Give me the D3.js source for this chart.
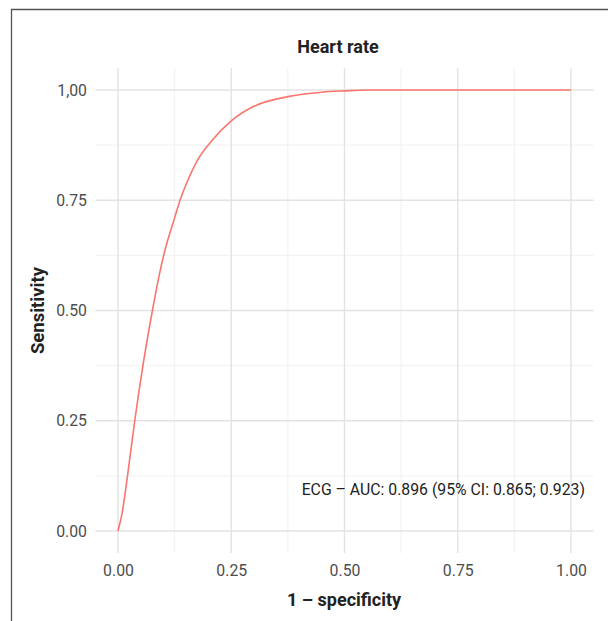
<!DOCTYPE html>
<html>
<head>
<meta charset="utf-8">
<script src="https://cdn.jsdelivr.net/npm/d3@7"></script>
<style>
  body { margin: 0; background: #fff; }
  text { font-family: "Roboto", "Liberation Sans", sans-serif; }
</style>
</head>
<body>
<div id="chart"></div>
<script>
// ROC curve points (1 - specificity, sensitivity)
var fpr = [0, 0.009, 0.021, 0.037, 0.055, 0.076, 0.09, 0.1015, 0.125, 0.137, 0.15, 0.175, 0.207, 0.25, 0.3, 0.375, 0.45, 0.5, 0.55, 1.0];
var sens = [0, 0.04, 0.125, 0.25, 0.375, 0.5, 0.575, 0.628, 0.71, 0.75, 0.785, 0.84, 0.885, 0.93, 0.963, 0.985, 0.995, 0.998, 1.0, 1.0];

var xTicks = [0, 0.25, 0.5, 0.75, 1];
var yTicks = [0, 0.25, 0.5, 0.75, 1];
var yTickLabels = ["0.00", "0.25", "0.50", "0.75", "1,00"];
var minorTicks = [0.125, 0.375, 0.625, 0.875];

var titleText = "Heart rate";
var xTitle = "1 \u2013 specificity";
var yTitle = "Sensitivity";
var aucText = "ECG \u2013 AUC: 0.896 (95% CI: 0.865; 0.923)";

var svgWidth = 608;
var svgHeight = 621;

var svg = d3.select("#chart")
  .append("svg")
  .attr("width", svgWidth)
  .attr("height", svgHeight);

// frame line on left and top
svg.append("path")
  .attr("d", "M11.5,621 L11.5,9.5 L608,9.5")
  .attr("fill", "none")
  .attr("stroke", "#555")
  .attr("stroke-width", 1.3);

// scales, with a 5% expansion like ggplot
var xScale = d3.scaleLinear().domain([0, 1]).range([118, 571]);
var yScale = d3.scaleLinear().domain([0, 1]).range([531, 90]);
var panelX = [xScale(-0.05), xScale(1.05)];
var panelY = [yScale(1.05), yScale(-0.05)];

var grid = svg.append("g");

// minor grid
minorTicks.forEach(function(t) {
  grid.append("line")
    .attr("x1", xScale(t)).attr("x2", xScale(t))
    .attr("y1", panelY[0]).attr("y2", panelY[1])
    .attr("stroke", "#ededed").attr("stroke-width", 0.8);
  grid.append("line")
    .attr("x1", panelX[0]).attr("x2", panelX[1])
    .attr("y1", yScale(t)).attr("y2", yScale(t))
    .attr("stroke", "#ededed").attr("stroke-width", 0.8);
});

// major grid
xTicks.forEach(function(t) {
  grid.append("line")
    .attr("x1", xScale(t)).attr("x2", xScale(t))
    .attr("y1", panelY[0]).attr("y2", panelY[1])
    .attr("stroke", "#e3e3e3").attr("stroke-width", 1.4);
});
yTicks.forEach(function(t) {
  grid.append("line")
    .attr("x1", panelX[0]).attr("x2", panelX[1])
    .attr("y1", yScale(t)).attr("y2", yScale(t))
    .attr("stroke", "#e3e3e3").attr("stroke-width", 1.4);
});

// axes (labels only, no lines)
var bottomAxis = d3.axisBottom(xScale)
  .tickValues(xTicks)
  .tickFormat(d3.format(".2f"))
  .tickSize(0)
  .tickPadding(0);
var xAxis = svg.append("g")
  .attr("transform", "translate(0,565)")
  .call(bottomAxis);
xAxis.select(".domain").remove();

var leftAxis = d3.axisLeft(yScale)
  .tickValues(yTicks)
  .tickFormat(function(d, i) { return yTickLabels[i]; })
  .tickSize(0)
  .tickPadding(0);
var yAxis = svg.append("g")
  .attr("transform", "translate(87,0)")
  .call(leftAxis);
yAxis.select(".domain").remove();

svg.selectAll(".tick text")
  .attr("font-family", null)
  .attr("font-size", null)
  .style("font-size", "15.8px")
  .attr("fill", "#4d4d4d");

// ROC line
var rocData = fpr.map(function(d, i) { return { x: d, y: sens[i] }; });
var line = d3.line()
  .x(function(d) { return xScale(d.x); })
  .y(function(d) { return yScale(d.y); })
  .curve(d3.curveMonotoneX);

svg.append("path")
  .datum(rocData)
  .attr("d", line)
  .attr("fill", "none")
  .attr("stroke", "#F8766D")
  .attr("stroke-width", 1.6);

// AUC annotation
svg.append("text")
  .attr("x", 585)
  .attr("y", 494.5)
  .attr("text-anchor", "end")
  .style("font-size", "15.8px")
  .attr("fill", "#222")
  .text(aucText);

// title
svg.append("text")
  .attr("x", 338)
  .attr("y", 53)
  .attr("text-anchor", "middle")
  .style("font-size", "18px")
  .attr("font-weight", "bold")
  .attr("fill", "#222")
  .text(titleText);

// axis titles
svg.append("text")
  .attr("x", 344)
  .attr("y", 606)
  .attr("text-anchor", "middle")
  .style("font-size", "18px")
  .attr("font-weight", "bold")
  .attr("fill", "#222")
  .text(xTitle);

svg.append("text")
  .attr("transform", "translate(44," + yScale(0.5) + ") rotate(-90)")
  .attr("text-anchor", "middle")
  .style("font-size", "18.5px")
  .attr("font-weight", "bold")
  .attr("fill", "#222")
  .text(yTitle);
</script>
</body>
</html>
